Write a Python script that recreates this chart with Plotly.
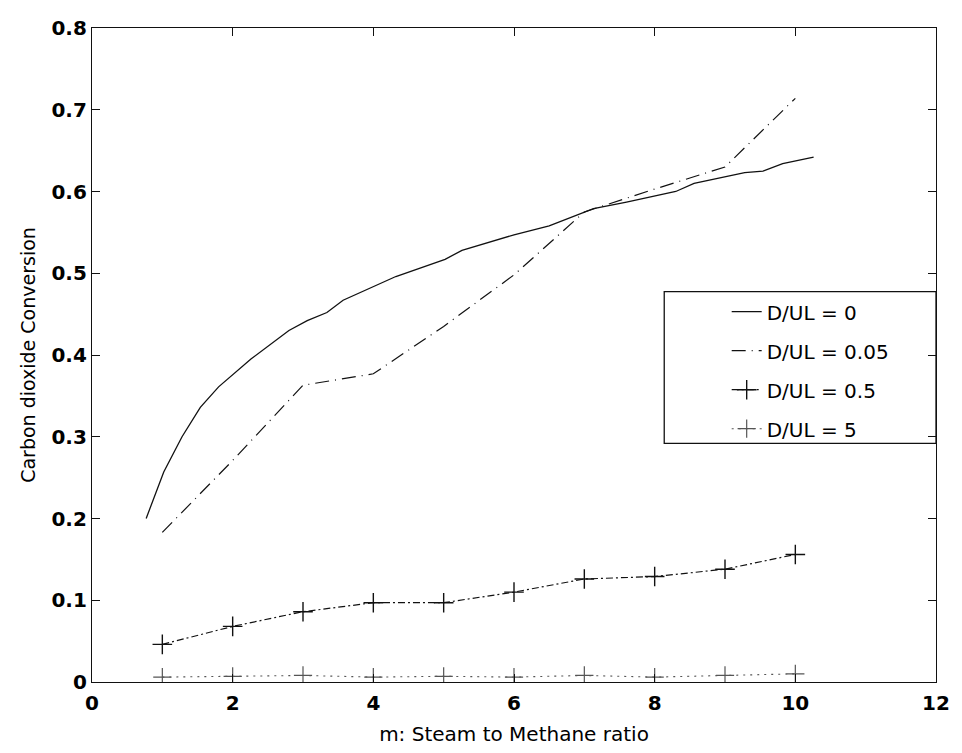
import plotly.graph_objects as go

# Steam-to-methane ratio grid and CO2 conversion for each dispersion number D/UL
m_fine = [0.77, 1.02, 1.28, 1.54, 1.80, 2.26, 2.80, 3.06, 3.34, 3.57, 4.32, 5.02,
          5.26, 5.6, 6.0, 6.5, 7.13, 7.6, 8.3, 8.56, 9.28, 9.54, 9.82, 10.26]
conv_d0 = [0.200, 0.257, 0.300, 0.336, 0.361, 0.395, 0.430, 0.442, 0.452, 0.467, 0.496, 0.517,
           0.528, 0.537, 0.547, 0.558, 0.579, 0.587, 0.600, 0.610, 0.623, 0.625, 0.634, 0.642]

m_int = [1, 2, 3, 4, 5, 6, 7, 8, 9, 10]
conv_d005 = [0.183, 0.271, 0.363, 0.377, 0.435, 0.498, 0.575, 0.603, 0.630, 0.714]
conv_d05 = [0.046, 0.068, 0.086, 0.097, 0.097, 0.110, 0.126, 0.129, 0.138, 0.156]
conv_d5 = [0.006, 0.007, 0.008, 0.006, 0.007, 0.006, 0.008, 0.006, 0.008, 0.010]

series_names = ["D/UL = 0", "D/UL = 0.05", "D/UL = 0.5", "D/UL = 5"]

x_ticks = [0, 2, 4, 6, 8, 10, 12]
y_ticks = [0, 0.1, 0.2, 0.3, 0.4, 0.5, 0.6, 0.7, 0.8]
y_tick_text = ["0", "0.1", "0.2", "0.3", "0.4", "0.5", "0.6", "0.7", "0.8"]

FONT = "DejaVu Sans"

fig = go.Figure()
fig.add_trace(go.Scatter(
    x=m_fine, y=conv_d0, name=series_names[0], legendgroup="a",
    mode="lines", line=dict(color="#111111", width=1.3)))
fig.add_trace(go.Scatter(
    x=m_int, y=conv_d005, name=series_names[1], legendgroup="b",
    mode="lines", line=dict(color="#111111", width=1.2, dash="14px,6px,1px,6px")))
fig.add_trace(go.Scatter(
    x=m_int, y=conv_d05, name=series_names[2], legendgroup="c",
    mode="lines+markers", line=dict(color="#111111", width=1.2, dash="7px,3px,2px,3px"),
    marker=dict(symbol="cross-thin-open", size=14, line=dict(color="#111111", width=1.4))))
fig.add_trace(go.Scatter(
    x=m_int, y=conv_d5, name=series_names[3], legendgroup="d",
    mode="lines+markers", line=dict(color="#555555", width=1.1, dash="2px,5px"),
    marker=dict(symbol="cross-thin-open", size=13, line=dict(color="#222222", width=1.2))))

axis_common = dict(
    showgrid=False, zeroline=False, showline=True, linecolor="#111111", linewidth=1.3,
    mirror="allticks", ticks="inside", ticklen=8, tickwidth=1.1, tickcolor="#111111",
    tickfont=dict(family=FONT, size=20, color="#000000", weight="bold"),
)

fig.update_xaxes(
    range=[0, 12], tickvals=x_ticks, ticktext=[str(v) for v in x_ticks],
    ticklabelstandoff=3,
    title=dict(text="m: Steam to Methane ratio", font=dict(family=FONT, size=20, color="#000000"),
               standoff=12),
    **axis_common)
fig.update_yaxes(
    range=[0, 0.8], tickvals=y_ticks, ticktext=y_tick_text,
    title=dict(text="Carbon dioxide Conversion", font=dict(family=FONT, size=19, color="#000000"),
               standoff=10),
    **axis_common)

# frame around the legend entries
fig.add_shape(type="rect", xref="paper", yref="paper",
              x0=0.678, x1=1.0, y0=0.365, y1=0.597,
              line=dict(color="#111111", width=1.3), fillcolor="rgba(0,0,0,0)")

fig.update_layout(
    width=962, height=753,
    margin=dict(l=92, r=15, t=28, b=70),
    paper_bgcolor="white", plot_bgcolor="white",
    showlegend=True,
    legend=dict(
        x=0.752, y=0.596, xanchor="left", yanchor="top",
        bgcolor="rgba(0,0,0,0)", borderwidth=0,
        font=dict(family=FONT, size=20, color="#000000"),
        tracegroupgap=10,
    ),
)

fig.write_html("out.html")
